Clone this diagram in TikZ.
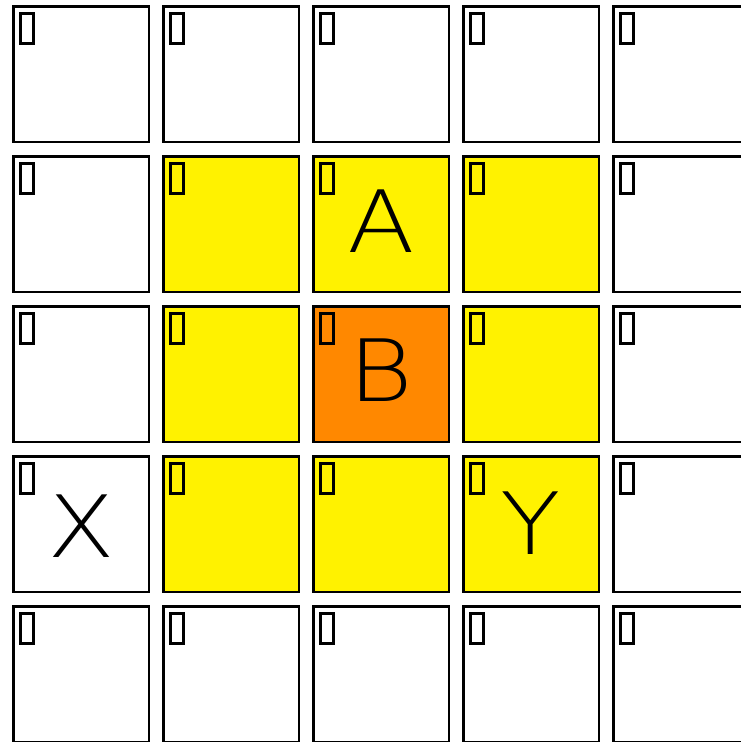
\documentclass[tikz,border=0pt]{standalone}
\usepackage{fontspec}
\newfontfamily\thinfont{DejaVu Sans ExtraLight}
\usetikzlibrary{positioning}

\definecolor{ring0}{RGB}{255,136,0}
\definecolor{ring1}{RGB}{255,242,0}
\definecolor{ring2}{RGB}{255,255,255}

\tikzset{
  cell/.style={draw=black, line width=2.5pt, minimum size=135.5pt, inner sep=0pt},
  tofu/.style={draw=black, line width=3pt},
  letter/.style={inner sep=0pt, xscale=1.15, font=\thinfont\fontsize{86}{90}\selectfont}
}

\begin{document}
\begin{tikzpicture}[x=1pt, y=-1pt]
  \useasboundingbox (0,0) rectangle (740,742);
  \foreach \r in {0,...,4} {
    \foreach \c in {0,...,4} {
      \pgfmathtruncatemacro\ring{max(abs(\r-2),abs(\c-2))}
      \node[cell, fill=ring\ring] (cell-\r-\c) at (81+150*\c, 74+150*\r) {};
      \draw[tofu] ([shift={(8.5,8.5)}]cell-\r-\c.north west) rectangle +(13,30);
    }
  }
  \node[letter] (lbl-a) at ([yshift=2.5]cell-1-2) {A};
  \node[letter] (lbl-b) at ([yshift=4]cell-2-2) {B};
  \node[letter] (lbl-x) at ([yshift=-2]cell-3-0) {X};
  \node[letter] (lbl-y) at ([yshift=1]cell-3-3) {Y};
\end{tikzpicture}
\end{document}
